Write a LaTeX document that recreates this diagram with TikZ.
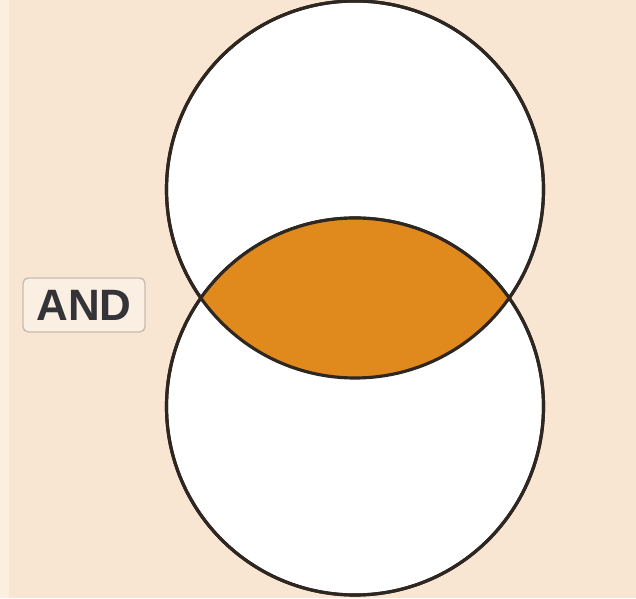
\documentclass[tikz,border=0pt]{standalone}
\usepackage{fontspec}
\setsansfont{Liberation Sans}
\usepackage{tikz}
\usetikzlibrary{positioning}
\usepackage{xcolor}
\definecolor{PageBg}{HTML}{F8E5D2}
\definecolor{EdgeBg}{HTML}{FCEFDF}
\definecolor{LensOrange}{HTML}{E08A1E}
\definecolor{RingDark}{HTML}{2E2620}
\definecolor{LabelGray}{HTML}{C9BBAE}
\definecolor{LabelText}{HTML}{333338}
\begin{document}
\begin{tikzpicture}[every node/.style={font=\sffamily\bfseries\fontsize{12.5}{14}\selectfont}]
\useasboundingbox (0,0) rectangle (6.36,5.98);
\fill[PageBg] (0,0) rectangle (6.36,5.98);
\fill[EdgeBg] (0,0) rectangle (0.09,5.98);
\node[circle,draw=RingDark,line width=0.9pt,fill=white,minimum size=3.77cm,inner sep=0pt] (upper) at (3.55,4.085) {};
\node[circle,draw=RingDark,line width=0.9pt,fill=white,minimum size=3.77cm,inner sep=0pt] (lower) at (3.55,1.915) {};
% lens where both sets overlap
\begin{scope}
\clip (upper.center) circle (1.885);
\fill[LensOrange] (lower.center) circle (1.885);
\end{scope}
\draw[RingDark,line width=0.9pt] (upper.center) circle (1.885);
\draw[RingDark,line width=0.9pt] (lower.center) circle (1.885);
\node[draw=LabelGray,rounded corners=1.5pt,fill=PageBg!60!white,text=LabelText,minimum width=1.22cm,minimum height=0.54cm,inner sep=1pt] (andlabel) at (0.84,2.93) {AND};
\end{tikzpicture}
\end{document}
